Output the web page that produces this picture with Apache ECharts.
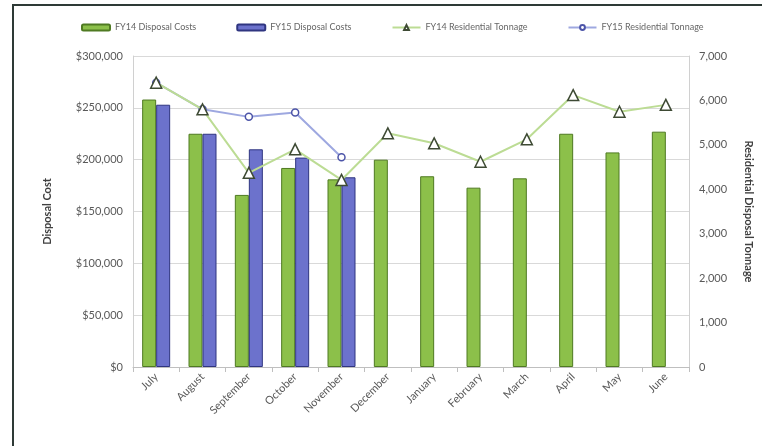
<!DOCTYPE html>
<html>
<head>
<meta charset="utf-8">
<script src="https://cdn.jsdelivr.net/npm/echarts@6/dist/echarts.min.js"></script>
<style>
  html, body { margin: 0; padding: 0; background: #fff; }
  #chart { width: 762px; height: 446px; }
</style>
</head>
<body>
<div id="chart"></div>
<script>
// months, fiscal year order
const months = ["July", "August", "September", "October", "November", "December",
  "January", "February", "March", "April", "May", "June"];

// disposal costs ($)
const fy14Costs = [258000, 225000, 166000, 192000, 181000, 200000, 184000, 173000, 182000, 225000, 207000, 227000];
const fy15Costs = [253000, 225000, 210000, 202000, 183000, null, null, null, null, null, null, null];

// residential tonnage
const fy14Tons = [6400, 5800, 4370, 4900, 4210, 5260, 5035, 4620, 5125, 6120, 5745, 5900];
const fy15Tons = [6400, 5800, 5630, 5730, 4720, null, null, null, null, null, null, null];

const FONT = "Lato";
const labelColor = "#595959";

const chart = echarts.init(document.getElementById("chart"));

chart.setOption({
  animation: false,
  textStyle: { fontFamily: FONT },
  graphic: [
    {
      // outer frame (only left and top edges show in the photo)
      type: "rect",
      shape: { x: 13, y: 5, width: 900, height: 500 },
      style: { fill: "none", stroke: "#2e3a36", lineWidth: 2 },
      silent: true,
    },
  ],
  legend: {
    top: 18,
    left: 76,
    itemWidth: 28,
    itemHeight: 6,
    itemGap: 40,
    textStyle: { fontSize: 9, color: "#666", fontFamily: FONT },
    data: ["FY14 Disposal Costs", "FY15 Disposal Costs", "FY14 Residential Tonnage", "FY15 Residential Tonnage"],
  },
  grid: { left: 133, right: 72, top: 56, bottom: 79 },
  xAxis: {
    type: "category",
    data: months,
    axisLine: { lineStyle: { color: "#bfbfbf" } },
    axisTick: { show: true, lineStyle: { color: "#bfbfbf" } },
    axisLabel: { rotate: 45, color: labelColor, fontSize: 11, fontFamily: FONT, margin: 8 },
  },
  yAxis: [
    {
      type: "value",
      min: 0,
      max: 300000,
      interval: 50000,
      name: "Disposal Cost",
      nameLocation: "middle",
      nameGap: 80,
      nameTextStyle: { color: "#404040", fontSize: 11, fontWeight: "bold", fontFamily: FONT },
      axisLine: { show: true, lineStyle: { color: "#d0d0d0" } },
      axisTick: { show: false },
      axisLabel: {
        color: labelColor,
        fontSize: 11,
        fontFamily: FONT,
        margin: 10,
        formatter: (v) => "$" + v.toLocaleString("en-US"),
      },
      splitLine: { lineStyle: { color: "#d9d9d9" } },
    },
    {
      type: "value",
      min: 0,
      max: 7000,
      interval: 1000,
      position: "right",
      name: "Residential Disposal Tonnage",
      nameLocation: "middle",
      nameGap: 54,
      nameRotate: -90,
      nameTextStyle: { color: "#404040", fontSize: 11, fontWeight: "bold", fontFamily: FONT },
      axisLine: { show: true, lineStyle: { color: "#d0d0d0" } },
      axisTick: { show: false },
      axisLabel: {
        color: labelColor,
        fontSize: 11,
        fontFamily: FONT,
        margin: 10,
        formatter: (v) => v.toLocaleString("en-US"),
      },
      splitLine: { show: false },
    },
  ],
  series: [
    {
      name: "FY14 Disposal Costs",
      type: "bar",
      data: fy14Costs,
      barWidth: 14,
      barGap: "0%",
      itemStyle: { color: "#8cc04a", borderColor: "#4f7a22", borderWidth: 1 },
    },
    {
      name: "FY15 Disposal Costs",
      type: "bar",
      data: fy15Costs,
      barWidth: 14,
      itemStyle: { color: "#6c72cc", borderColor: "#2f3580", borderWidth: 1 },
    },
    {
      name: "FY15 Residential Tonnage",
      type: "line",
      yAxisIndex: 1,
      data: fy15Tons,
      symbol: "circle",
      symbolSize: 7,
      lineStyle: { color: "#9ea8e0", width: 2 },
      itemStyle: { color: "#fff", borderColor: "#4c54a8", borderWidth: 1.5 },
      z: 3,
    },
    {
      name: "FY14 Residential Tonnage",
      type: "line",
      yAxisIndex: 1,
      data: fy14Tons,
      symbol: "triangle",
      symbolSize: 11,
      lineStyle: { color: "#bcdc94", width: 2 },
      itemStyle: { color: "#fff", borderColor: "#3e4a34", borderWidth: 1.5 },
      z: 4,
    },
  ],
});
</script>
</body>
</html>
